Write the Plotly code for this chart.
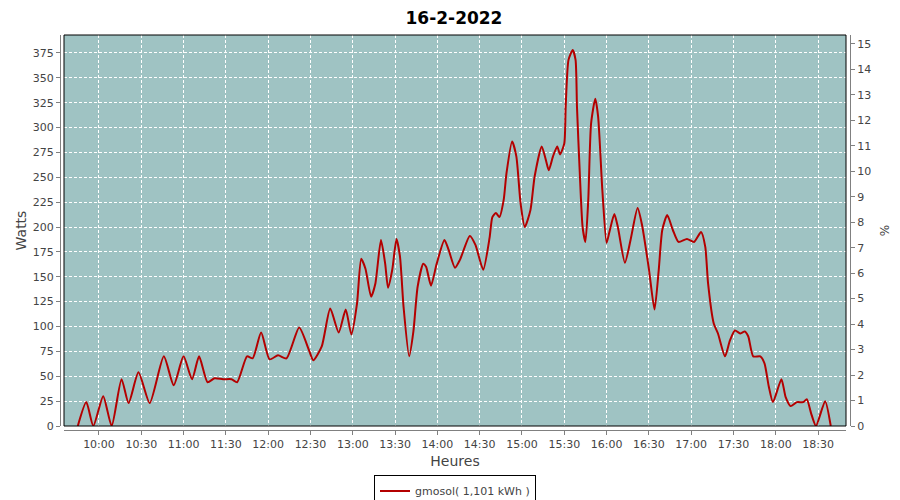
import plotly.graph_objects as go

DAY = "2022-02-16 "
title_text = "16-2-2022"
series_name = "gmosol( 1,101 kWh )"

times = ["09:45", "09:51", "09:56", "10:03", "10:09", "10:16", "10:21", "10:28", "10:36",
         "10:46", "10:53", "11:00", "11:06", "11:11", "11:17", "11:22", "11:28", "11:34",
         "11:38", "11:45", "11:49", "11:55", "12:01", "12:07", "12:13", "12:22", "12:29",
         "12:32", "12:38", "12:44", "12:50", "12:55", "12:59", "13:03", "13:06", "13:09",
         "13:13", "13:16", "13:20", "13:23", "13:25", "13:28", "13:31", "13:33:30", "13:36",
         "13:40", "13:43", "13:46", "13:50", "13:52", "13:55:30", "13:59:30", "14:05", "14:08",
         "14:12:30", "14:16", "14:23", "14:27", "14:32:30", "14:37", "14:39", "14:41:30",
         "14:44", "14:47", "14:49", "14:53", "14:56", "14:59", "15:02", "15:06", "15:09",
         "15:14", "15:17", "15:19", "15:22", "15:25", "15:27", "15:30", "15:31", "15:33",
         "15:36", "15:38", "15:39", "15:41", "15:43", "15:45", "15:47", "15:49", "15:52",
         "15:54", "15:57", "16:00", "16:02", "16:05:30", "16:08", "16:13", "16:17", "16:22",
         "16:25", "16:30", "16:34", "16:37", "16:39:30", "16:43", "16:47", "16:51", "16:57",
         "17:02", "17:07", "17:10", "17:12", "17:16", "17:19", "17:24", "17:27:30", "17:31",
         "17:35", "17:38", "17:40:30", "17:44", "17:49", "17:52", "17:55", "17:58", "18:04",
         "18:07", "18:10:30", "18:15", "18:19:30", "18:22", "18:25", "18:28:30", "18:35", "18:39"]

watts = [0, 24, 0, 30, 0, 47, 23, 54, 23,
         70, 41, 70, 47, 70, 44, 48, 47, 47,
         44, 70, 68, 94, 67, 71, 68, 99, 76,
         66, 80, 118, 94, 117, 92, 123, 168, 158,
         130, 143, 187, 163, 139, 157, 188, 170, 120,
         70, 95, 140, 163, 160, 141, 163, 187, 177,
         159, 167, 191, 182, 157, 189, 210, 214,
         210, 227, 254, 286, 271, 224, 200, 217, 251,
         281, 267, 257, 271, 281, 273, 284, 321, 368,
         378, 368, 321, 254, 200, 185, 227, 304, 329,
         311, 237, 184, 195, 213, 200, 164, 187, 219,
         203, 158, 117, 157, 197, 212, 197, 185, 188,
         185, 195, 180, 143, 103, 93, 70, 86, 96,
         93, 95, 90, 70, 70, 63, 40, 24, 47,
         29, 20, 24, 24, 27, 13, 0, 25, 0]

x_tick_labels = ["10:00", "10:30", "11:00", "11:30", "12:00", "12:30", "13:00", "13:30",
                 "14:00", "14:30", "15:00", "15:30", "16:00", "16:30", "17:00", "17:30",
                 "18:00", "18:30"]

x_dt = [DAY + t for t in times]
tick_vals = [DAY + t for t in x_tick_labels]

BG = "#9FC3C3"
LINE = "#B40000"
AXIS = "#808080"
TXT = "#444444"
FONT = "DejaVu Sans"

# page body has an 8px margin, so the figure is drawn 8px smaller and offset
FIG_W, FIG_H = 892, 492

fig = go.Figure()
fig.add_trace(go.Scatter(
    x=x_dt, y=watts, mode="lines", name=series_name,
    line=dict(color=LINE, width=2, shape="spline", smoothing=0.6),
    hoverinfo="skip",
))
fig.add_trace(go.Scatter(
    x=[x_dt[0]], y=[0], yaxis="y2", mode="markers",
    marker=dict(opacity=0), showlegend=False, hoverinfo="skip",
))

W, H = 790, 395
fig.update_layout(
    width=FIG_W, height=FIG_H,
    margin=dict(l=52, r=50, t=27, b=70, autoexpand=False),
    paper_bgcolor="white",
    plot_bgcolor=BG,
    font=dict(family=FONT, size=11, color=TXT),
    title=dict(text="<b>" + title_text + "</b>", x=0.5, xanchor="center",
               y=1 - 4.5 / FIG_H, yanchor="top", pad=dict(t=0, b=0),
               font=dict(family=FONT, size=17, color="black")),
    showlegend=True,
    legend=dict(orientation="h", x=0.5, xanchor="center", y=-0.115, yanchor="top",
                bordercolor="black", borderwidth=1, bgcolor="white",
                font=dict(family=FONT, size=11, color=TXT), itemwidth=30),
    xaxis=dict(
        type="date", domain=[4 / W, 1 - 4 / W], anchor="free", position=0,
        range=[DAY + "09:35:12", DAY + "18:49:48"],
        tickvals=tick_vals, ticktext=x_tick_labels,
        showline=True, linecolor=AXIS, linewidth=1,
        ticks="outside", ticklen=4, tickcolor=AXIS,
        showgrid=True, gridcolor="white", gridwidth=1, griddash="3px,2px",
        zeroline=False, automargin=False,
        title=dict(text="Heures", font=dict(size=14, color=TXT), standoff=5),
        tickfont=dict(size=11, color=TXT),
    ),
    yaxis=dict(
        domain=[4 / H, 1], anchor="free", position=0,
        range=[0, 393], dtick=25, tick0=0,
        showline=True, linecolor=AXIS, linewidth=1,
        ticks="outside", ticklen=4, tickcolor=AXIS,
        showgrid=True, gridcolor="white", gridwidth=1, griddash="3px,2px",
        zeroline=False, automargin=False,
        title=dict(text="Watts", font=dict(size=14, color=TXT), standoff=1),
        tickfont=dict(size=11, color=TXT),
    ),
    yaxis2=dict(
        overlaying="y", side="right", anchor="free", position=1,
        range=[0, 15.35], dtick=1, tick0=0,
        showline=True, linecolor=AXIS, linewidth=1,
        ticks="outside", ticklen=4, tickcolor=AXIS,
        showgrid=False, zeroline=False, automargin=False,
        title=dict(text="%", font=dict(size=12, color=TXT), standoff=10),
        tickfont=dict(size=11, color=TXT),
    ),
)

fig.add_shape(type="rect", xref="x domain", yref="y domain", x0=0, x1=1, y0=0, y1=1,
              line=dict(color="black", width=1), fillcolor="rgba(0,0,0,0)", layer="above")

fig.write_html("out.html")
